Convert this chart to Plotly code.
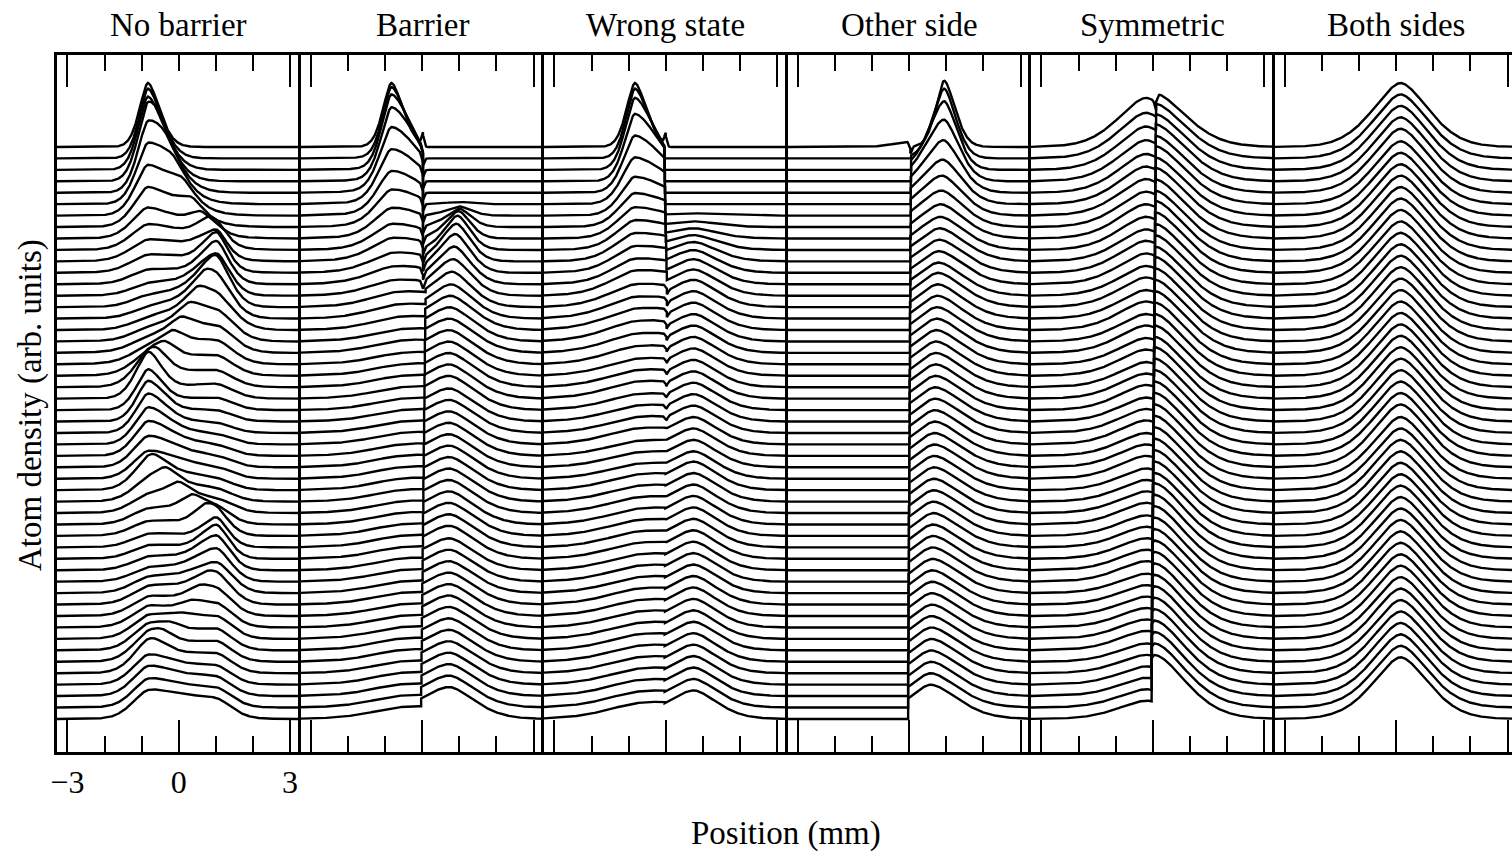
import numpy as np
import plotly.graph_objects as go

# ---------------------------------------------------------------------------
# Panel titles and axis ticks (mm)
# ---------------------------------------------------------------------------
panel_titles = ["No barrier", "Barrier", "Wrong state", "Other side", "Symmetric", "Both sides"]
bottom_major = [-3, 0, 3]
bottom_minor = [-2, -1, 1, 2]
top_major = [-3, 3]
top_minor = [-2, -1, 0, 1, 2]
tick_text = ["\u22123", "0", "3"]

N_CURVES = 51          # profiles per panel, top = first
X_LIM = 3.28           # half width of each panel in mm
x = np.linspace(-X_LIM, X_LIM, 657)

# ---------------------------------------------------------------------------
# Per-profile peak parameters (amplitudes in units of the stacking offset,
# positions and widths in mm).  Index 0 is the top profile.
# ---------------------------------------------------------------------------
# --- No barrier ---
P1_LEFT_POS, P1_RIGHT_POS = -0.83, 1.02
p1_left_amp = [
    5.6, 6.1, 6.4, 6.3, 5.9, 5.2, 4.4, 3.5, 2.7, 2.0,
    1.5, 1.1, 0.8, 0.6, 0.5, 0.4, 0.4, 0.4, 0.5, 0.7,
    1.1, 1.8, 2.6, 3.0, 3.0, 2.9, 2.7, 2.5, 2.2, 1.9,
    1.6, 1.3, 1.1, 0.9, 0.8, 0.7, 0.7, 0.7, 0.7, 0.8,
    0.9, 1.0, 1.2, 1.4, 1.6, 1.8, 1.9, 2.0, 2.0, 1.9,
    1.9]
p1_left_sl = [
    0.22, 0.23, 0.25, 0.26, 0.27, 0.30, 0.33, 0.36, 0.40, 0.44,
    0.48, 0.50, 0.50, 0.50, 0.50, 0.50, 0.50, 0.50, 0.50, 0.50,
    0.45, 0.38, 0.32, 0.29, 0.29, 0.31, 0.33, 0.35, 0.37, 0.39,
    0.41, 0.43, 0.45, 0.46, 0.48, 0.48, 0.48, 0.48, 0.48, 0.47,
    0.46, 0.45, 0.44, 0.43, 0.42, 0.41, 0.40, 0.40, 0.40, 0.40,
    0.40]
p1_left_sr = [
    0.30, 0.36, 0.42, 0.48, 0.56, 0.64, 0.72, 0.80, 0.88, 0.95,
    1.00, 1.00, 1.00, 0.90, 0.80, 0.70, 0.60, 0.60, 0.60, 0.60,
    0.50, 0.42, 0.36, 0.36, 0.42, 0.48, 0.55, 0.62, 0.68, 0.74,
    0.80, 0.85, 0.90, 0.90, 0.90, 0.90, 0.80, 0.70, 0.60, 0.55,
    0.50, 0.50, 0.50, 0.50, 0.52, 0.55, 0.60, 0.65, 0.70, 0.75,
    0.80]
p1_right_amp = [
    0.0, 0.0, 0.0, 0.0, 0.0, 0.0, 0.0, 0.0, 0.3, 1.0,
    2.0, 2.8, 3.1, 3.1, 3.0, 2.8, 2.5, 2.2, 1.9, 1.6,
    1.3, 1.0, 0.8, 0.6, 0.5, 0.4, 0.4, 0.4, 0.4, 0.4,
    0.4, 0.5, 0.6, 0.9, 1.4, 2.0, 2.4, 2.5, 2.4, 2.2,
    2.0, 1.8, 1.6, 1.5, 1.4, 1.3, 1.2, 1.1, 1.1, 1.1,
    1.1]
p1_right_sl = [
    0.30, 0.30, 0.30, 0.30, 0.30, 0.30, 0.30, 0.30, 0.60, 0.50,
    0.42, 0.36, 0.40, 0.50, 0.60, 0.70, 0.80, 0.90, 1.00, 1.00,
    1.00, 1.00, 0.80, 0.80, 0.80, 0.80, 0.80, 0.80, 0.80, 0.80,
    0.80, 0.80, 0.70, 0.55, 0.42, 0.36, 0.40, 0.50, 0.60, 0.70,
    0.80, 0.80, 0.80, 0.80, 0.80, 0.80, 0.80, 0.80, 0.80, 0.80,
    0.80]
p1_right_sr = [
    0.25, 0.25, 0.25, 0.25, 0.25, 0.25, 0.25, 0.25, 0.25, 0.25,
    0.25, 0.27, 0.30, 0.33, 0.36, 0.40, 0.45, 0.45, 0.45, 0.45,
    0.45, 0.45, 0.45, 0.45, 0.45, 0.45, 0.45, 0.45, 0.45, 0.45,
    0.45, 0.45, 0.45, 0.35, 0.30, 0.28, 0.30, 0.33, 0.36, 0.40,
    0.40, 0.40, 0.40, 0.40, 0.40, 0.40, 0.40, 0.40, 0.40, 0.40,
    0.40]
p1_front_pos = [
    0.00, 0.00, 0.00, -0.55, -0.35, -0.15, 0.10, 0.35, 0.60, 0.82,
    0.00, 0.00, 0.00, 0.00, 0.95, 0.72, 0.50, 0.28, 0.06, -0.16,
    -0.38, -0.60, -0.80, 0.00, 0.00, 0.00, 0.00, 0.00, 0.00, 0.00,
    -0.70, -0.35, 0.00, 0.35, 0.70, 0.00, 0.00, 0.00, 0.00, 0.00,
    0.80, 0.55, 0.30, 0.05, -0.20, -0.45, -0.70, 0.00, 0.00, 0.00,
    0.00]
p1_front_amp = [
    0.0, 0.0, 0.0, 1.0, 1.2, 1.3, 1.3, 1.3, 1.3, 1.2,
    0.0, 0.0, 0.0, 0.0, 1.0, 1.2, 1.2, 1.2, 1.2, 1.2,
    1.2, 1.1, 0.9, 0.0, 0.0, 0.0, 0.0, 0.0, 0.0, 0.0,
    1.0, 1.2, 1.2, 1.2, 1.0, 0.0, 0.0, 0.0, 0.0, 0.0,
    0.5, 0.6, 0.6, 0.6, 0.6, 0.6, 0.5, 0.0, 0.0, 0.0,
    0.0]
p1_bridge_amp = [
    0.0, 0.0, 0.0, 0.0, 0.0, 0.0, 0.0, 0.0, 0.0, 0.3,
    0.5, 0.6, 0.6, 0.6, 0.6, 0.6, 0.6, 0.6, 0.6, 0.6,
    0.6, 0.6, 0.6, 0.6, 0.6, 0.6, 0.6, 0.6, 0.6, 0.6,
    0.6, 0.6, 0.6, 0.6, 0.6, 0.6, 0.6, 0.6, 0.6, 0.6,
    0.6, 0.6, 0.6, 0.6, 0.6, 0.6, 0.6, 0.6, 0.6, 0.6,
    0.6]

# --- Barrier ---
p2_left_amp = [
    5.6, 6.1, 6.4, 6.2, 5.4, 4.4, 3.5, 2.8, 2.2, 1.8,
    1.5, 1.2, 1.0, 0.8, 0.7, 0.6, 0.5, 0.4, 0.4, 0.3,
    0.3, 0.3, 0.3, 0.3, 0.3, 0.3, 0.3, 0.3, 0.3, 0.3,
    0.3, 0.3, 0.3, 0.3, 0.3, 0.3, 0.3, 0.3, 0.3, 0.3,
    0.3, 0.3, 0.3, 0.3, 0.3, 0.3, 0.3, 0.3, 0.3, 0.3,
    0.3]
p2_left_sl = [
    0.22, 0.23, 0.25, 0.27, 0.30, 0.33, 0.36, 0.40, 0.44, 0.48,
    0.52, 0.56, 0.60, 0.60, 0.60, 0.60, 0.60, 0.60, 0.60, 0.60,
    0.60, 0.60, 0.60, 0.60, 0.60, 0.60, 0.60, 0.60, 0.60, 0.60,
    0.60, 0.60, 0.60, 0.60, 0.60, 0.60, 0.60, 0.60, 0.60, 0.60,
    0.60, 0.60, 0.60, 0.60, 0.60, 0.60, 0.60, 0.60, 0.60, 0.60,
    0.60]
p2_left_sr = [
    0.30, 0.38, 0.50, 0.62, 0.72, 0.80, 0.85, 0.90, 0.90, 0.90,
    0.90, 0.90, 0.90, 0.90, 0.90, 0.90, 0.90, 0.90, 0.90, 0.90,
    0.90, 0.90, 0.90, 0.90, 0.90, 0.90, 0.90, 0.90, 0.90, 0.90,
    0.90, 0.90, 0.90, 0.90, 0.90, 0.90, 0.90, 0.90, 0.90, 0.90,
    0.90, 0.90, 0.90, 0.90, 0.90, 0.90, 0.90, 0.90, 0.90, 0.90,
    0.90]
p2_ramp_amp = [
    0.0, 0.2, 0.3, 0.4, 0.5, 0.6, 0.6, 0.7, 0.7, 0.7,
    0.8, 0.8, 0.8, 0.8, 0.9, 0.9, 0.9, 0.9, 0.9, 0.9,
    0.9, 0.9, 0.9, 0.9, 0.9, 0.9, 0.9, 0.9, 0.9, 0.9,
    0.9, 0.9, 0.9, 0.9, 0.9, 0.9, 0.9, 0.9, 0.9, 0.9,
    0.9, 0.9, 0.9, 0.9, 0.9, 0.9, 0.9, 0.9, 0.9, 0.9,
    0.9]
p2_right_pos = [
    1.00, 1.00, 1.00, 1.00, 1.00, 1.00, 1.00, 1.00, 0.98, 0.95,
    0.92, 0.89, 0.86, 0.83, 0.80, 0.78, 0.76, 0.74, 0.73, 0.72,
    0.72, 0.72, 0.72, 0.72, 0.72, 0.72, 0.72, 0.72, 0.72, 0.72,
    0.72, 0.72, 0.72, 0.72, 0.72, 0.72, 0.72, 0.72, 0.72, 0.72,
    0.72, 0.72, 0.72, 0.72, 0.72, 0.72, 0.72, 0.72, 0.72, 0.72,
    0.72]
p2_right_amp = [
    0.0, 0.0, 0.0, 0.0, 0.0, 0.2, 0.8, 1.6, 2.4, 3.0,
    3.3, 3.4, 3.3, 3.2, 3.1, 3.0, 3.0, 3.0, 3.0, 3.0,
    3.0, 3.0, 3.0, 3.0, 2.9, 2.9, 2.9, 2.9, 2.9, 2.9,
    2.9, 2.9, 2.9, 2.9, 2.9, 2.9, 2.9, 2.8, 2.8, 2.8,
    2.8, 2.8, 2.8, 2.8, 2.8, 2.8, 2.8, 2.8, 2.8, 2.8,
    2.8]
p2_right_sl = [
    0.35, 0.35, 0.35, 0.35, 0.35, 0.35, 0.35, 0.35, 0.35, 0.35,
    0.40, 0.45, 0.50, 0.55, 0.60, 0.65, 0.70, 0.75, 0.80, 0.80,
    0.80, 0.80, 0.80, 0.80, 0.80, 0.80, 0.80, 0.80, 0.80, 0.80,
    0.80, 0.80, 0.80, 0.80, 0.80, 0.80, 0.80, 0.80, 0.80, 0.80,
    0.80, 0.80, 0.80, 0.80, 0.80, 0.80, 0.80, 0.80, 0.80, 0.80,
    0.80]
p2_right_sr = [
    0.30, 0.30, 0.30, 0.30, 0.30, 0.30, 0.30, 0.30, 0.30, 0.32,
    0.35, 0.38, 0.42, 0.46, 0.50, 0.55, 0.60, 0.62, 0.65, 0.65,
    0.65, 0.65, 0.65, 0.65, 0.65, 0.65, 0.65, 0.65, 0.65, 0.65,
    0.65, 0.65, 0.65, 0.65, 0.65, 0.65, 0.65, 0.65, 0.65, 0.65,
    0.65, 0.65, 0.65, 0.65, 0.65, 0.65, 0.65, 0.65, 0.65, 0.65,
    0.65]
p2_edge = [
    0.02, 0.02, 0.02, 0.02, 0.02, 0.02, 0.02, 0.02, 0.02, 0.02,
    0.02, 0.02, 0.02, 0.02, 0.09, 0.09, 0.08, 0.08, 0.08, 0.07,
    0.07, 0.07, 0.06, 0.06, 0.06, 0.05, 0.05, 0.05, 0.04, 0.04,
    0.04, 0.03, 0.03, 0.03, 0.02, 0.02, 0.02, 0.01, 0.01, 0.01,
    0.00, 0.00, 0.00, -0.01, -0.01, -0.01, -0.02, -0.02, -0.02, -0.03,
    -0.03]
p2_spike = [
    1.0, -0.6, -0.6, -0.6, -0.6, -0.6, -0.6, -0.6, -0.6, -0.6,
    -0.6, -0.6, -0.6, -0.6, 0.0, 0.0, 0.0, 0.0, 0.0, 0.0,
    0.0, 0.0, 0.0, 0.0, 0.0, 0.0, 0.0, 0.0, 0.0, 0.0,
    0.0, 0.0, 0.0, 0.0, 0.0, 0.0, 0.0, 0.0, 0.0, 0.0,
    0.0, 0.0, 0.0, 0.0, 0.0, 0.0, 0.0, 0.0, 0.0, 0.0,
    0.0]

# --- Wrong state ---
p3_left_amp = [
    5.6, 6.1, 6.3, 5.9, 5.0, 4.1, 3.4, 2.9, 2.6, 2.4,
    2.2, 2.0, 1.9, 1.8, 1.6, 1.5, 1.4, 1.3, 1.2, 1.1,
    1.0, 1.0, 1.0, 0.9, 0.9, 0.9, 0.9, 0.8, 0.8, 0.8,
    0.8, 0.8, 0.8, 0.8, 0.8, 0.8, 0.8, 0.8, 0.8, 0.8,
    0.8, 0.8, 0.8, 0.8, 0.8, 0.8, 0.8, 0.8, 0.8, 0.8,
    0.8]
p3_left_sl = [
    0.22, 0.23, 0.25, 0.27, 0.30, 0.33, 0.36, 0.40, 0.44, 0.48,
    0.52, 0.56, 0.60, 0.65, 0.70, 0.75, 0.80, 0.80, 0.80, 0.80,
    0.80, 0.80, 0.80, 0.80, 0.80, 0.80, 0.80, 0.80, 0.80, 0.80,
    0.80, 0.80, 0.80, 0.80, 0.80, 0.80, 0.80, 0.80, 0.80, 0.80,
    0.80, 0.80, 0.80, 0.80, 0.80, 0.80, 0.80, 0.80, 0.80, 0.80,
    0.80]
p3_left_sr = [
    0.30, 0.38, 0.50, 0.65, 0.80, 0.95, 1.10, 1.20, 1.30, 1.40,
    1.50, 1.50, 1.50, 1.50, 1.50, 1.50, 1.50, 1.50, 1.50, 1.50,
    1.50, 1.50, 1.50, 1.50, 1.50, 1.50, 1.50, 1.50, 1.50, 1.50,
    1.50, 1.50, 1.50, 1.50, 1.50, 1.50, 1.50, 1.50, 1.50, 1.50,
    1.50, 1.50, 1.50, 1.50, 1.50, 1.50, 1.50, 1.50, 1.50, 1.50,
    1.50]
p3_ramp_amp = [
    0.0, 0.0, 0.0, 0.0, 0.0, 0.0, 0.0, 0.1, 0.2, 0.3,
    0.4, 0.5, 0.5, 0.6, 0.6, 0.6, 0.7, 0.7, 0.7, 0.7,
    0.7, 0.7, 0.7, 0.7, 0.7, 0.7, 0.7, 0.7, 0.7, 0.7,
    0.8, 0.8, 0.8, 0.8, 0.8, 0.8, 0.8, 0.8, 0.8, 0.8,
    0.8, 0.8, 0.8, 0.8, 0.8, 0.8, 0.8, 0.8, 0.8, 0.8,
    0.8]
P3_RIGHT_POS = 0.75
p3_right_amp = [
    0.0, 0.0, 0.0, 0.0, 0.0, 0.0, 0.2, 0.5, 0.9, 1.3,
    1.7, 2.0, 2.2, 2.3, 2.4, 2.4, 2.4, 2.4, 2.4, 2.4,
    2.4, 2.4, 2.4, 2.4, 2.4, 2.4, 2.4, 2.4, 2.4, 2.4,
    2.5, 2.5, 2.5, 2.5, 2.5, 2.5, 2.5, 2.5, 2.5, 2.5,
    2.5, 2.5, 2.5, 2.5, 2.5, 2.5, 2.5, 2.5, 2.5, 2.5,
    2.5]
p3_edge = [
    0.00, -0.04, -0.035, -0.03, -0.025, -0.02, -0.015, -0.01, -0.005, 0.00,
    0.01, 0.015, 0.02, 0.03, 0.03, 0.03, 0.03, 0.02, 0.02, 0.02,
    0.02, 0.02, 0.01, 0.01, 0.01, 0.01, 0.01, 0.00, 0.00, 0.00,
    0.00, 0.00, 0.00, -0.01, -0.01, -0.01, -0.01, -0.01, -0.02, -0.02,
    -0.02, -0.02, -0.02, -0.02, -0.03, -0.03, -0.03, -0.03, -0.03, -0.03,
    -0.03]
p3_spike = [
    0.9, 0.0, 0.0, 0.0, 0.0, 0.0, 0.0, 0.0, 0.0, 0.0,
    0.0, 0.0, 0.0, 0.0, -0.3, -0.3, -0.3, -0.3, -0.3, -0.3,
    -0.3, -0.3, -0.3, -0.3, -0.3, -0.3, 0.0, 0.0, 0.0, 0.0,
    0.0, 0.0, 0.0, 0.0, 0.0, 0.0, 0.0, 0.0, 0.0, 0.0,
    0.0, 0.0, 0.0, 0.0, 0.0, 0.0, 0.0, 0.0, 0.0, 0.0,
    0.0]

# --- Other side ---
p4_right_pos = [
    0.94, 0.94, 0.94, 0.93, 0.92, 0.90, 0.88, 0.86, 0.85, 0.84,
    0.82, 0.81, 0.80, 0.79, 0.78, 0.77, 0.76, 0.75, 0.74, 0.73,
    0.72, 0.72, 0.71, 0.71, 0.70, 0.70, 0.69, 0.69, 0.68, 0.68,
    0.67, 0.67, 0.66, 0.66, 0.65, 0.65, 0.64, 0.64, 0.63, 0.63,
    0.62, 0.62, 0.61, 0.61, 0.60, 0.60, 0.60, 0.59, 0.59, 0.58,
    0.58]
p4_right_amp = [
    5.8, 6.1, 6.0, 5.4, 4.6, 3.9, 3.5, 3.2, 3.0, 2.9,
    2.9, 2.9, 2.9, 2.9, 3.0, 3.0, 3.0, 3.0, 3.0, 3.0,
    3.0, 3.0, 3.0, 3.0, 3.0, 3.0, 3.0, 3.0, 3.0, 3.0,
    3.0, 3.0, 3.0, 3.0, 3.0, 3.0, 3.0, 3.0, 3.0, 3.0,
    3.0, 3.0, 3.0, 3.0, 3.0, 3.0, 3.0, 3.0, 3.0, 3.0,
    3.0]
p4_right_sl = [
    0.22, 0.30, 0.40, 0.48, 0.53, 0.57, 0.60, 0.60, 0.60, 0.60,
    0.60, 0.60, 0.60, 0.60, 0.60, 0.60, 0.60, 0.60, 0.60, 0.60,
    0.60, 0.60, 0.60, 0.60, 0.60, 0.60, 0.60, 0.60, 0.60, 0.60,
    0.60, 0.60, 0.60, 0.60, 0.60, 0.60, 0.60, 0.60, 0.60, 0.60,
    0.60, 0.60, 0.60, 0.60, 0.60, 0.60, 0.60, 0.60, 0.60, 0.60,
    0.60]
p4_right_sr = [
    0.28, 0.30, 0.33, 0.38, 0.43, 0.48, 0.52, 0.56, 0.60, 0.62,
    0.65, 0.65, 0.65, 0.65, 0.66, 0.66, 0.66, 0.67, 0.67, 0.67,
    0.68, 0.68, 0.68, 0.68, 0.69, 0.69, 0.69, 0.69, 0.70, 0.70,
    0.70, 0.70, 0.70, 0.70, 0.70, 0.70, 0.70, 0.70, 0.70, 0.70,
    0.70, 0.70, 0.70, 0.70, 0.70, 0.70, 0.70, 0.70, 0.70, 0.70,
    0.70]
p4_ramp_amp = [
    0.5, 0.0, 0.0, 0.0, 0.0, 0.0, 0.0, 0.0, 0.0, 0.0,
    0.0, 0.0, 0.0, 0.0, 0.0, 0.0, 0.0, 0.0, 0.0, 0.0,
    0.0, 0.0, 0.0, 0.0, 0.0, 0.0, 0.0, 0.0, 0.0, 0.0,
    0.0, 0.0, 0.0, 0.0, 0.0, 0.0, 0.0, 0.0, 0.0, 0.0,
    0.0, 0.0, 0.0, 0.0, 0.0, 0.0, 0.0, 0.0, 0.0, 0.0,
    0.0]
p4_edge = [
    0.03, 0.05, 0.05, 0.05, 0.04, 0.04, 0.04, 0.04, 0.04, 0.03,
    0.03, 0.03, 0.03, 0.03, 0.03, 0.02, 0.02, 0.02, 0.02, 0.02,
    0.02, 0.01, 0.01, 0.01, 0.01, 0.01, 0.01, 0.00, 0.00, 0.00,
    0.00, 0.00, 0.00, -0.01, -0.01, -0.01, -0.01, -0.01, -0.01, -0.02,
    -0.02, -0.02, -0.02, -0.02, -0.02, -0.02, -0.03, -0.03, -0.03, -0.03,
    -0.03]
p4_spike = [
    -0.6, 0.0, 0.0, 0.0, 0.0, 0.0, 0.0, 0.0, 0.0, 0.0,
    0.0, 0.0, 0.0, 0.0, 0.0, 0.0, 0.0, 0.0, 0.0, 0.0,
    0.0, 0.0, 0.0, 0.0, 0.0, 0.0, 0.0, 0.0, 0.0, 0.0,
    0.0, 0.0, 0.0, 0.0, 0.0, 0.0, 0.0, 0.0, 0.0, 0.0,
    0.0, 0.0, 0.0, 0.0, 0.0, 0.0, 0.0, 0.0, 0.0, 0.0,
    0.0]

# --- Symmetric ---
P5_LEFT_POS, P5_RIGHT_POS = -0.18, 0.05
p5_left_amp = [
    4.3, 4.0, 3.8, 3.6, 3.4, 3.3, 3.2, 3.1, 3.0, 2.9,
    2.8, 2.8, 2.7, 2.6, 2.6, 2.5, 2.5, 2.4, 2.4, 2.3,
    2.3, 2.2, 2.2, 2.2, 2.1, 2.1, 2.1, 2.0, 2.0, 2.0,
    1.9, 1.9, 1.9, 1.9, 1.8, 1.8, 1.8, 1.8, 1.8, 1.7,
    1.7, 1.7, 1.7, 1.7, 1.7, 1.6, 1.6, 1.6, 1.6, 1.6,
    1.6]
p5_right_amp = [
    4.7, 4.8, 4.9, 5.0, 5.0, 5.1, 5.1, 5.2, 5.2, 5.2,
    5.3, 5.3, 5.3, 5.3, 5.3, 5.4, 5.4, 5.4, 5.4, 5.4,
    5.4, 5.4, 5.4, 5.5, 5.5, 5.5, 5.5, 5.5, 5.5, 5.5,
    5.5, 5.5, 5.5, 5.5, 5.5, 5.6, 5.6, 5.6, 5.6, 5.6,
    5.6, 5.6, 5.6, 5.6, 5.6, 5.6, 5.6, 5.6, 5.6, 5.6,
    5.6]
p5_edge = [
    0.09, 0.09, 0.09, 0.08, 0.08, 0.08, 0.08, 0.07, 0.07, 0.07,
    0.07, 0.06, 0.06, 0.06, 0.06, 0.05, 0.05, 0.05, 0.05, 0.04,
    0.04, 0.04, 0.04, 0.03, 0.03, 0.03, 0.03, 0.02, 0.02, 0.02,
    0.02, 0.01, 0.01, 0.01, 0.01, 0.00, 0.00, 0.00, 0.00, -0.01,
    -0.01, -0.01, -0.01, -0.02, -0.02, -0.02, -0.02, -0.03, -0.03, -0.03,
    -0.03]
p5_spike = [
    -0.7, 0.0, 0.0, 0.0, 0.0, 0.0, 0.0, 0.0, 0.0, 0.0,
    0.0, 0.0, 0.0, 0.0, 0.0, 0.0, 0.0, 0.0, 0.0, 0.0,
    0.0, 0.0, 0.0, 0.0, 0.0, 0.0, 0.0, 0.0, 0.0, 0.0,
    0.0, 0.0, 0.0, 0.0, 0.0, 0.0, 0.0, 0.0, 0.0, 0.0,
    0.0, 0.0, 0.0, 0.0, 0.0, 0.0, 0.0, 0.0, 0.0, 0.0,
    0.0]

# --- Both sides ---
p6_pos = [
    0.12, 0.12, 0.12, 0.12, 0.12, 0.12, 0.12, 0.12, 0.12, 0.12,
    0.12, 0.12, 0.12, 0.12, 0.12, 0.12, 0.12, 0.12, 0.12, 0.12,
    0.12, 0.12, 0.12, 0.12, 0.12, 0.12, 0.12, 0.12, 0.12, 0.12,
    0.12, 0.12, 0.12, 0.12, 0.12, 0.12, 0.12, 0.12, 0.12, 0.12,
    0.12, 0.12, 0.12, 0.12, 0.12, 0.12, 0.12, 0.12, 0.12, 0.12,
    0.12]
p6_amp = [
    5.6, 5.6, 5.6, 5.6, 5.6, 5.5, 5.5, 5.5, 5.5, 5.5,
    5.5, 5.5, 5.5, 5.5, 5.5, 5.5, 5.5, 5.5, 5.5, 5.5,
    5.5, 5.5, 5.5, 5.5, 5.5, 5.5, 5.5, 5.5, 5.5, 5.4,
    5.4, 5.4, 5.4, 5.4, 5.4, 5.4, 5.4, 5.4, 5.4, 5.4,
    5.4, 5.4, 5.4, 5.4, 5.4, 5.4, 5.4, 5.4, 5.4, 5.4,
    5.4]

for arr in (p1_left_amp, p1_left_sl, p1_left_sr, p1_right_amp, p1_right_sl, p1_right_sr,
            p1_front_pos, p1_front_amp, p1_bridge_amp,
            p2_left_amp, p2_left_sl, p2_left_sr, p2_ramp_amp, p2_right_pos, p2_right_amp,
            p2_right_sl, p2_right_sr, p2_edge, p2_spike,
            p3_left_amp, p3_left_sl, p3_left_sr, p3_ramp_amp, p3_right_amp, p3_edge, p3_spike,
            p4_right_pos, p4_right_amp, p4_right_sl, p4_right_sr, p4_ramp_amp, p4_edge, p4_spike,
            p5_left_amp, p5_right_amp, p5_edge, p5_spike, p6_pos, p6_amp):
    assert len(arr) == N_CURVES, len(arr)


# ---------------------------------------------------------------------------
# Profile shapes
# ---------------------------------------------------------------------------
def bump(xv, c, a, sl, sr, p=1.7):
    d = xv - c
    s = np.where(d < 0, sl, sr)
    return a * np.exp(-0.5 * (np.abs(d) / s) ** p)


def notch(xv, e, a):
    return a * np.exp(-0.5 * ((xv - e) / 0.035) ** 2)


def split(e, left_fn, right_fn, sp):
    """Profile with a sharp step at the barrier position e."""
    xl = np.append(x[x < e], e)
    xr = np.insert(x[x > e], 0, e)
    yl = left_fn(xl) + notch(xl, e, sp)
    yr = right_fn(xr) + notch(xr, e, sp)
    return np.concatenate([xl, xr]), np.concatenate([yl, yr])


def profile_1(k):
    y = (bump(x, P1_LEFT_POS, p1_left_amp[k], p1_left_sl[k], p1_left_sr[k])
         + bump(x, P1_RIGHT_POS, p1_right_amp[k], p1_right_sl[k], p1_right_sr[k])
         + bump(x, p1_front_pos[k], p1_front_amp[k], 0.3, 0.3)
         + p1_bridge_amp[k] * np.exp(-((x - 0.1) / 1.4) ** 4))
    return x, y


def profile_2(k):
    e = p2_edge[k]
    return split(
        e,
        lambda v: bump(v, P1_LEFT_POS, p2_left_amp[k], p2_left_sl[k], p2_left_sr[k])
        + bump(v, e, p2_ramp_amp[k], 1.0, 1.0),
        lambda v: bump(v, p2_right_pos[k], p2_right_amp[k], p2_right_sl[k], p2_right_sr[k]),
        p2_spike[k])


def profile_3(k):
    e = p3_edge[k]
    return split(
        e,
        lambda v: bump(v, P1_LEFT_POS, p3_left_amp[k], p3_left_sl[k], p3_left_sr[k])
        + bump(v, e, p3_ramp_amp[k], 1.0, 1.0),
        lambda v: bump(v, P3_RIGHT_POS, p3_right_amp[k], 0.7, 0.6),
        p3_spike[k])


def profile_4(k):
    e = p4_edge[k]
    return split(
        e,
        lambda v: bump(v, e, p4_ramp_amp[k], 0.4, 0.4),
        lambda v: bump(v, p4_right_pos[k], p4_right_amp[k], p4_right_sl[k], p4_right_sr[k]),
        p4_spike[k])


def profile_5(k):
    e = p5_edge[k]
    return split(
        e,
        lambda v: bump(v, P5_LEFT_POS, p5_left_amp[k], 0.72, 0.72),
        lambda v: bump(v, P5_RIGHT_POS, p5_right_amp[k], 0.3, 0.8),
        p5_spike[k])


def profile_6(k):
    return x, bump(x, p6_pos[k], p6_amp[k], 0.72, 0.72)


builders = [profile_1, profile_2, profile_3, profile_4, profile_5, profile_6]

# ---------------------------------------------------------------------------
# Geometry of the figure
# ---------------------------------------------------------------------------
W, H = 1512, 852
M_L, M_T, M_B = 57, 55, 100
PANEL_PX = 243.5
plot_w = W - M_L
plot_h = H - M_T - M_B
px_per_mm = PANEL_PX / (2 * X_LIM)
y_range = [-2.89, 58.04]

FONT = "Liberation Serif"
fig = go.Figure()

for i, build in enumerate(builders):
    xs_all, ys_all = [], []
    for k in range(N_CURVES):
        xs, ys = build(k)
        offset = N_CURVES - 1 - k
        xs_all.extend(xs.tolist() + [None])
        ys_all.extend((ys + offset).tolist() + [None])
    n = i + 1
    fig.add_trace(go.Scatter(
        x=xs_all, y=ys_all, mode="lines",
        line=dict(color="black", width=2.4),
        xaxis="x" if n == 1 else f"x{n}",
        yaxis="y" if n == 1 else f"y{n}",
        hoverinfo="skip", showlegend=False))
    # empty trace so the top tick axis is laid out
    fig.add_trace(go.Scatter(x=[], y=[], xaxis=f"x{n + 6}",
                             yaxis="y" if n == 1 else f"y{n}",
                             showlegend=False, hoverinfo="skip"))

layout = dict(
    width=W, height=H,
    margin=dict(l=M_L, r=0, t=M_T, b=M_B),
    paper_bgcolor="white", plot_bgcolor="white",
    showlegend=False,
    font=dict(family=FONT, color="black", size=32),
)

for i in range(6):
    n = i + 1
    d0 = i * PANEL_PX / plot_w
    d1 = min(1.0, (i + 1) * PANEL_PX / plot_w)
    width_mm = (d1 - d0) * plot_w / px_per_mm
    xr = [-X_LIM, -X_LIM + width_mm]
    ysuf = "" if n == 1 else str(n)
    layout["xaxis" + ("" if n == 1 else str(n))] = dict(
        domain=[d0, d1], range=xr, anchor="y" + ysuf,
        showgrid=False, zeroline=False,
        showline=True, linecolor="black", linewidth=2.5,
        ticks="inside", tickmode="array", tickvals=bottom_major,
        ticktext=tick_text, ticklen=32, tickwidth=2, tickcolor="black",
        showticklabels=(n == 1), tickfont=dict(family=FONT, size=32, color="black"),
        minor=dict(tickmode="array", tickvals=bottom_minor, ticks="inside",
                   ticklen=16, tickwidth=2, tickcolor="black", showgrid=False),
        fixedrange=True,
    )
    layout[f"xaxis{n + 6}"] = dict(
        domain=[d0, d1], range=xr, anchor="y" + ysuf,
        overlaying="x" + ysuf, side="top",
        showgrid=False, zeroline=False,
        showline=True, linecolor="black", linewidth=2.5,
        ticks="inside", tickmode="array", tickvals=top_major,
        ticklen=32, tickwidth=2, tickcolor="black", showticklabels=False,
        minor=dict(tickmode="array", tickvals=top_minor, ticks="inside",
                   ticklen=16, tickwidth=2, tickcolor="black", showgrid=False),
        fixedrange=True,
    )
    # one vertical frame line per panel (its left edge); neighbours share it
    layout["yaxis" + ysuf] = dict(
        domain=[0, 1], range=y_range, anchor="x" + ysuf,
        showgrid=False, zeroline=False, showticklabels=False, ticks="",
        showline=True, linecolor="black", linewidth=3,
        mirror=False, fixedrange=True,
    )

annotations = []
for i, title in enumerate(panel_titles):
    cx_px = (i + 0.5) * PANEL_PX
    annotations.append(dict(
        text=title, xref="paper", yref="paper",
        x=cx_px / plot_w, y=1 + 30 / plot_h,
        xanchor="center", yanchor="middle", showarrow=False,
        font=dict(family=FONT, size=33, color="black")))
annotations.append(dict(
    text="Position (mm)", xref="paper", yref="paper",
    x=(786 - M_L) / plot_w, y=-(833 - (M_T + plot_h)) / plot_h,
    xanchor="center", yanchor="middle", showarrow=False,
    font=dict(family=FONT, size=33, color="black")))
annotations.append(dict(
    text="Atom density (arb. units)", xref="paper", yref="paper",
    x=(30 - M_L) / plot_w, y=(M_T + plot_h - 405) / plot_h,
    xanchor="center", yanchor="middle", showarrow=False, textangle=-90,
    font=dict(family=FONT, size=33, color="black")))
layout["annotations"] = annotations

fig.update_layout(**layout)
fig.write_html("out.html")
